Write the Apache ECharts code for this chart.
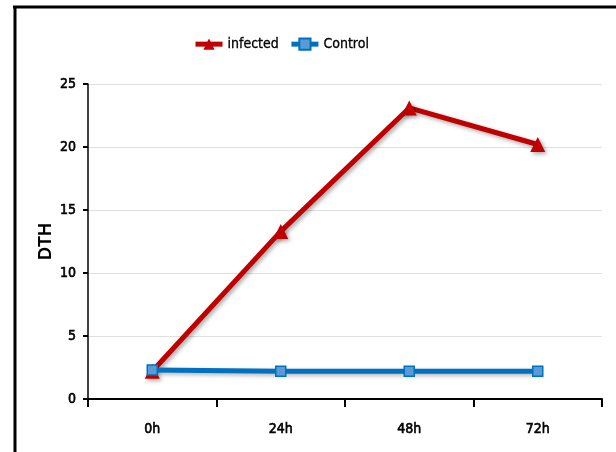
<!DOCTYPE html>
<html><head><meta charset="utf-8">
<script src="https://cdn.jsdelivr.net/npm/echarts@6/dist/echarts.min.js"></script>
<style>html,body{margin:0;padding:0;background:#fff}#c{width:616px;height:452px}</style>
</head><body><div id="c"></div>
<script>
const categories = ['0h', '24h', '48h', '72h'];
const infected = [2.2, 13.3, 23.1, 20.2];
const control = [2.3, 2.2, 2.2, 2.2];
const yTicks = [0, 5, 10, 15, 20, 25];

const FONT = '"DejaVu Sans Condensed", sans-serif';
const labelStyle = { fontFamily: FONT, fontSize: 14, fontWeight: 'normal', color: '#000', textBorderColor: '#000', textBorderWidth: 0.6 };
const chart = echarts.init(document.getElementById('c'));
chart.setOption({
  backgroundColor: '#fff',
  animation: false,
  graphic: [
    { type: 'line', shape: { x1: 13, y1: 7, x2: 616, y2: 7 }, style: { stroke: '#000', lineWidth: 3 } },
    { type: 'line', shape: { x1: 15, y1: 6, x2: 15, y2: 452 }, style: { stroke: '#000', lineWidth: 3 } }
  ],
  legend: {
    top: 32, left: 188, itemWidth: 27, itemHeight: 14, itemGap: 10,
    textStyle: { fontFamily: FONT, fontSize: 14, color: '#000', textBorderColor: '#000', textBorderWidth: 0.3 },
    lineStyle: { width: 5 },
    data: ['infected', 'Control']
  },
  grid: { left: 88, right: 14, top: 84, bottom: 53 },
  xAxis: {
    type: 'category', data: categories, boundaryGap: true,
    axisLine: { lineStyle: { color: '#000', width: 2 } },
    axisTick: { show: true, length: 8, lineStyle: { color: '#000', width: 2 } },
    axisLabel: Object.assign({ margin: 23 }, labelStyle)
  },
  yAxis: {
    type: 'value', min: yTicks[0], max: yTicks[yTicks.length - 1], interval: 5,
    name: 'DTH', nameLocation: 'middle', nameGap: 33, nameMoveOverlap: false,
    nameTextStyle: { fontFamily: 'Liberation Sans, Arial, sans-serif', fontSize: 18, fontWeight: 'bold', color: '#000' },
    axisLine: { show: true, lineStyle: { color: '#000', width: 1.5 } },
    axisTick: { show: true, length: 5, lineStyle: { color: '#000', width: 2 } },
    axisLabel: Object.assign({ margin: 12 }, labelStyle),
    splitLine: { lineStyle: { color: '#e0e0e0', width: 1 } }
  },
  series: [
    {
      name: 'infected', type: 'line', data: infected,
      symbol: 'triangle', symbolSize: 15,
      lineStyle: { color: '#C00000', width: 5, shadowColor: 'rgba(0,0,0,0.35)', shadowBlur: 4, shadowOffsetX: 2, shadowOffsetY: 2 },
      itemStyle: { color: '#C00000', borderColor: '#C00000', borderWidth: 0, shadowColor: 'rgba(0,0,0,0.35)', shadowBlur: 4, shadowOffsetX: 2, shadowOffsetY: 2 },
      z: 2
    },
    {
      name: 'Control', type: 'line', data: control,
      symbol: 'rect', symbolSize: 10,
      lineStyle: { color: '#0070C0', width: 5, shadowColor: 'rgba(0,0,0,0.3)', shadowBlur: 4, shadowOffsetX: 2, shadowOffsetY: 2 },
      itemStyle: { color: '#5B9BD5', borderColor: '#0070C0', borderWidth: 1.5 },
      z: 3
    }
  ]
});
</script></body></html>
